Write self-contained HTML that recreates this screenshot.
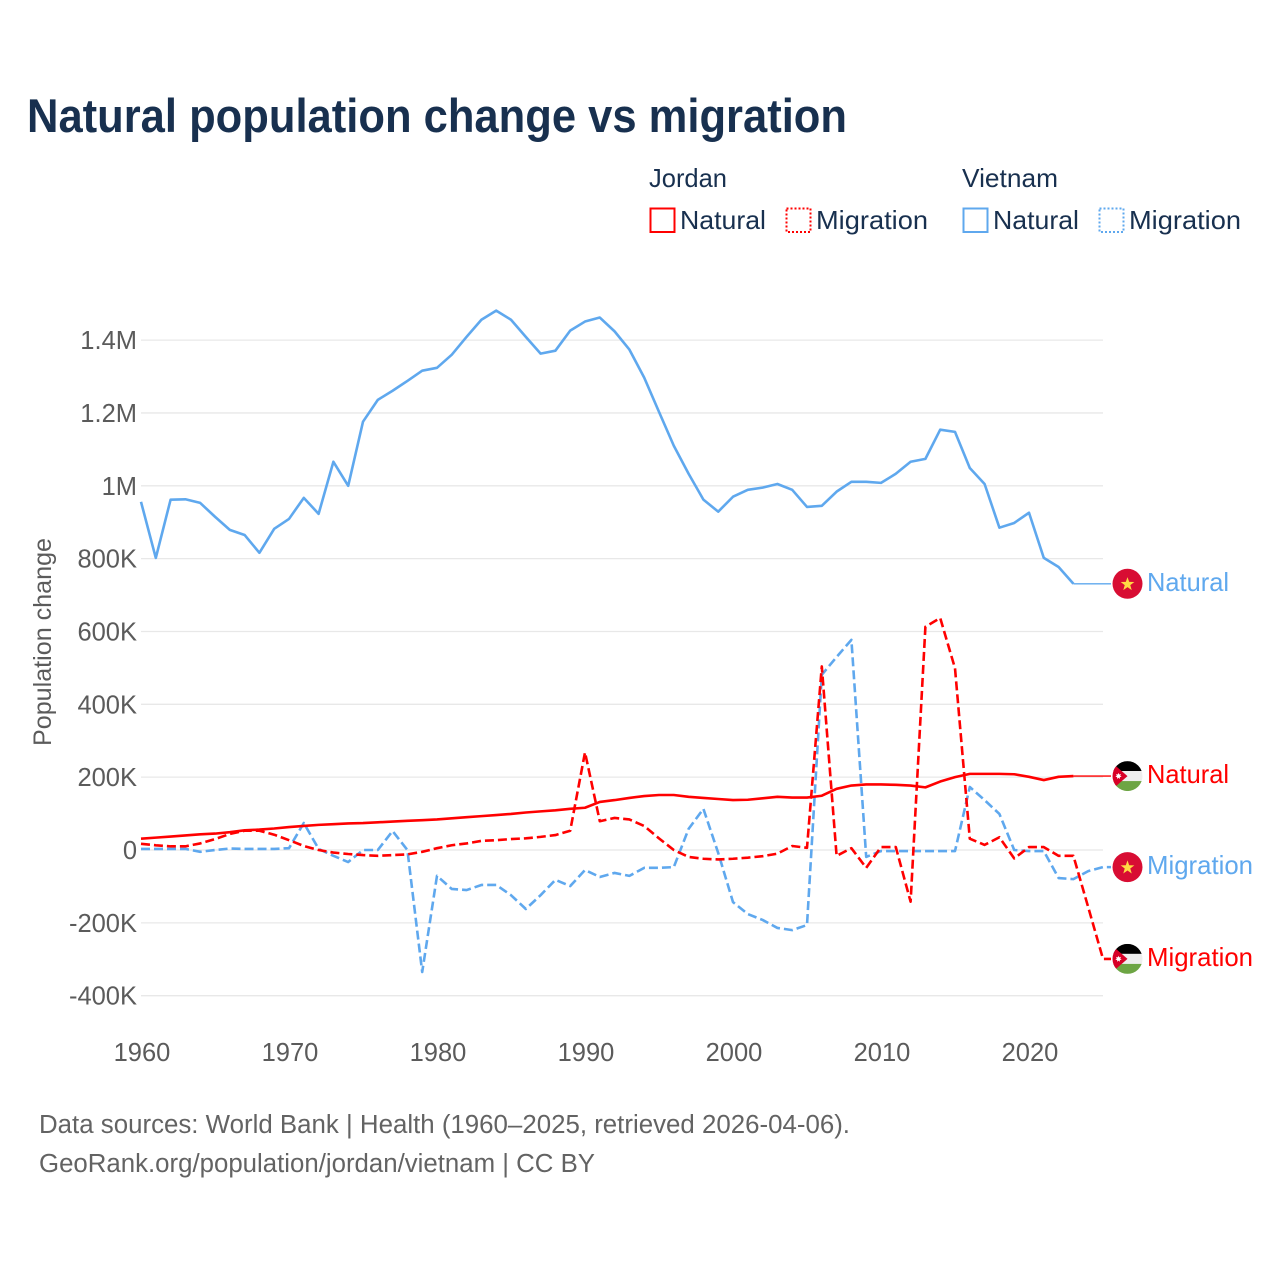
<!DOCTYPE html>
<html lang="en">
<head>
<meta charset="utf-8">
<title>Natural population change vs migration</title>
<style>
html,body{margin:0;padding:0;background:#fff;width:1280px;height:1280px;overflow:hidden}
svg{display:block}
text{font-family:"Liberation Sans",sans-serif}
</style>
</head>
<body>
<svg id="chart" xmlns="http://www.w3.org/2000/svg" width="1280" height="1280" viewBox="0 0 1280 1280">
  <rect x="0" y="0" width="1280" height="1280" fill="#ffffff"/>
  <text x="27" y="132" font-size="47" font-weight="700" fill="#18304f" textLength="820" lengthAdjust="spacingAndGlyphs">Natural population change vs migration</text>

  <g font-size="26" fill="#18304f">
    <text x="649" y="187" textLength="78" lengthAdjust="spacingAndGlyphs">Jordan</text>
    <text x="962" y="187" textLength="96" lengthAdjust="spacingAndGlyphs">Vietnam</text>
    <rect x="650.5" y="208.5" width="24" height="23.5" fill="none" stroke="#ff0000" stroke-width="2"/>
    <text x="680" y="229" textLength="86" lengthAdjust="spacingAndGlyphs">Natural</text>
    <rect x="786.5" y="208.5" width="24" height="23.5" fill="none" stroke="#ff0000" stroke-width="2" stroke-dasharray="2,2"/>
    <text x="816" y="229" textLength="112" lengthAdjust="spacingAndGlyphs">Migration</text>
    <rect x="963.5" y="208.5" width="24" height="23.5" fill="none" stroke="#5fa8ee" stroke-width="2"/>
    <text x="993" y="229" textLength="86" lengthAdjust="spacingAndGlyphs">Natural</text>
    <rect x="1099.5" y="208.5" width="24" height="23.5" fill="none" stroke="#5fa8ee" stroke-width="2" stroke-dasharray="2,2"/>
    <text x="1129" y="229" textLength="112" lengthAdjust="spacingAndGlyphs">Migration</text>
  </g>

  <g id="grid"></g>
  <g id="yTicks"></g>
  <g id="xTicks"></g>
  <text transform="translate(51,642) rotate(-90)" text-anchor="middle" font-size="25" fill="#5b5b5b" textLength="208" lengthAdjust="spacingAndGlyphs">Population change</text>
  <g id="series"></g>
  <g id="endLabels"></g>

  <text x="39" y="1133" font-size="25.5" fill="#636363" textLength="811" lengthAdjust="spacingAndGlyphs">Data sources: World Bank | Health (1960–2025, retrieved 2026-04-06).</text>
  <text x="39" y="1172" font-size="25.5" fill="#636363" textLength="556" lengthAdjust="spacingAndGlyphs">GeoRank.org/population/jordan/vietnam | CC BY</text>
</svg>

<script>
const years = [1960,1961,1962,1963,1964,1965,1966,1967,1968,1969,
  1970,1971,1972,1973,1974,1975,1976,1977,1978,1979,
  1980,1981,1982,1983,1984,1985,1986,1987,1988,1989,
  1990,1991,1992,1993,1994,1995,1996,1997,1998,1999,
  2000,2001,2002,2003,2004,2005,2006,2007,2008,2009,
  2010,2011,2012,2013,2014,2015,2016,2017,2018,2019,
  2020,2021,2022,2023,2024,2025];

/* values in thousands of people */
const vietnamNatural = [956,802,962,963,953,915,879,865,816,882,
  909,967,923,1066,1000,1176,1236,1261,1288,1316,
  1324,1360,1409,1456,1481,1456,1409,1363,1371,1426,
  1451,1462,1424,1374,1297,1203,1110,1033,962,929,
  970,989,995,1005,989,942,945,984,1011,1011,
  1008,1033,1066,1074,1154,1148,1049,1005,885,898,
  926,802,777,731];

const vietnamMigration = [3,3,3,3,-5,0,4,3,3,3,
  5,74,3,-16,-33,0,0,52,0,-335,
  -71,-107,-110,-96,-96,-124,-162,-124,-82,-99,
  -55,-74,-63,-71,-49,-49,-47,58,113,-8,
  -143,-176,-192,-214,-220,-206,481,530,577,-19,
  -3,-3,-3,-3,-3,-3,173,137,99,0,
  -3,-3,-77,-80,-58,-47];

const jordanNatural = [31,34,37,40,43,45,49,54,56,59,
  63,66,69,71,73,74,76,78,80,82,
  84,87,90,93,96,99,103,106,109,113,
  116,132,137,143,148,151,151,146,143,140,
  137,138,142,146,144,144,149,168,177,180,
  180,179,177,172,188,200,209,209,209,208,
  201,192,201,203];

const jordanMigration = [17,13,10,10,18,30,44,53,53,42,
  27,11,0,-7,-11,-14,-16,-14,-12,-5,
  5,13,18,25,27,30,32,36,41,53,
  268,79,88,84,66,32,0,-19,-24,-26,
  -24,-21,-17,-10,11,6,504,-16,5,-49,
  8,8,-142,613,637,499,31,14,35,-23,
  8,8,-16,-16,-157,-299];

const yTickValues = [-400,-200,0,200,400,600,800,1000,1200,1400];
const yTickLabels = ["-400K","-200K","0","200K","400K","600K","800K","1M","1.2M","1.4M"];
const xTickValues = [1960,1970,1980,1990,2000,2010,2020];

const SVGNS = "http://www.w3.org/2000/svg";
const RED = "#ff0000";
const BLUE = "#5fa8ee";
const GREY = "#5b5b5b";
const PLOT_LEFT = 141;
const PLOT_RIGHT = 1103;
const LABEL_LINE_END = 1111;
const FLAG_X = 1127.5;

function xScale(year) { return PLOT_LEFT + (year - 1960) * (PLOT_RIGHT - PLOT_LEFT) / 65; }
function yScale(value) { return 850 - value * 0.3642; }

function make(tag, attrs, parent) {
  const el = document.createElementNS(SVGNS, tag);
  for (const k in attrs) el.setAttribute(k, attrs[k]);
  parent.appendChild(el);
  return el;
}

const gridG = document.getElementById("grid");
const yG = document.getElementById("yTicks");
const xG = document.getElementById("xTicks");
const seriesG = document.getElementById("series");
const endG = document.getElementById("endLabels");

yTickValues.forEach(function (v, i) {
  const y = yScale(v);
  const line = make("line", {x1: PLOT_LEFT, x2: PLOT_RIGHT, y1: y, y2: y, stroke: "#e8e8e8", "stroke-width": 1.3}, gridG);
  
  
  const t = make("text", {x: 137, y: y + 9, "text-anchor": "end", "font-size": 25.5, fill: GREY}, yG);
  t.textContent = yTickLabels[i];
  
  
});

xTickValues.forEach(function (yr) {
  const t = make("text", {x: xScale(yr) + 1, y: 1061, "text-anchor": "middle", "font-size": 25.5, fill: GREY}, xG);
  t.textContent = String(yr);
  
  
});

function drawSeries(values, color, dashed) {
  const pts = values.map(function (v, i) { return xScale(years[i]).toFixed(2) + "," + yScale(v).toFixed(2); });
  const lastY = yScale(values[values.length - 1]);
  const attrs = {fill: "none", stroke: color, "stroke-width": 2.6, "stroke-linejoin": "round"};
  if (dashed) {
    pts.push(LABEL_LINE_END + "," + lastY.toFixed(2));
    attrs["stroke-dasharray"] = "9,4";
  }
  attrs.points = pts.join(" ");
  const line = make("polyline", attrs, seriesG);
  if (!dashed) {
    const lastX = xScale(years[values.length - 1]);
    const tail = make("line", {x1: lastX, x2: LABEL_LINE_END, y1: lastY, y2: lastY, stroke: color, "stroke-width": 1.4}, seriesG);
    
    
  }
  return line;
}

const lineVN = drawSeries(vietnamNatural, BLUE, false);


const lineVM = drawSeries(vietnamMigration, BLUE, true);


const lineJM = drawSeries(jordanMigration, RED, true);


const lineJN = drawSeries(jordanNatural, RED, false);



function starPoints(cx, cy, outer, inner, n) {
  const p = [];
  for (let i = 0; i < n * 2; i++) {
    const r = i % 2 ? inner : outer;
    const a = -Math.PI / 2 + i * Math.PI / n;
    p.push((cx + r * Math.cos(a)).toFixed(2) + "," + (cy + r * Math.sin(a)).toFixed(2));
  }
  return p.join(" ");
}

let clipCount = 0;
function drawFlag(country, cy) {
  const g = make("g", {}, endG);
  if (country === "vietnam") {
    make("circle", {cx: FLAG_X, cy: cy, r: 15, fill: "#d80d33"}, g);
    make("polygon", {points: starPoints(FLAG_X, cy + 0.5, 7.2, 2.9, 5), fill: "#ffda44"}, g);
  } else {
    clipCount += 1;
    const id = "flagClip" + clipCount;
    const cp = make("clipPath", {id: id}, g);
    make("circle", {cx: FLAG_X, cy: cy, r: 15}, cp);
    const f = make("g", {"clip-path": "url(#" + id + ")"}, g);
    make("rect", {x: FLAG_X - 15, y: cy - 15, width: 30, height: 10, fill: "#000000"}, f);
    make("rect", {x: FLAG_X - 15, y: cy - 5, width: 30, height: 10, fill: "#eeeeee"}, f);
    make("rect", {x: FLAG_X - 15, y: cy + 5, width: 30, height: 10, fill: "#6da544"}, f);
    make("polygon", {points: (FLAG_X - 15) + "," + (cy - 13) + " " + FLAG_X + "," + cy + " " + (FLAG_X - 15) + "," + (cy + 13), fill: "#d80027"}, f);
    make("polygon", {points: starPoints(FLAG_X - 9, cy, 3.2, 1.7, 7), fill: "#ffffff"}, f);
  }
  return g;
}

function drawEndLabel(text, color, cy, width) {
  const t = make("text", {x: 1147, y: cy + 7, "font-size": 26, fill: color, textLength: width, lengthAdjust: "spacingAndGlyphs"}, endG);
  t.textContent = text;
  return t;
}

const lastOf = function (a) { return yScale(a[a.length - 1]); };

const flagVN = drawFlag("vietnam", lastOf(vietnamNatural));


const flagJN = drawFlag("jordan", lastOf(jordanNatural));


const flagVM = drawFlag("vietnam", lastOf(vietnamMigration));


const flagJM = drawFlag("jordan", lastOf(jordanMigration));



const labelVN = drawEndLabel("Natural", BLUE, lastOf(vietnamNatural), 82);


const labelJN = drawEndLabel("Natural", RED, lastOf(jordanNatural), 82);


const labelVM = drawEndLabel("Migration", BLUE, lastOf(vietnamMigration), 106);


const labelJM = drawEndLabel("Migration", RED, lastOf(jordanMigration), 106);


</script>
</body>
</html>
